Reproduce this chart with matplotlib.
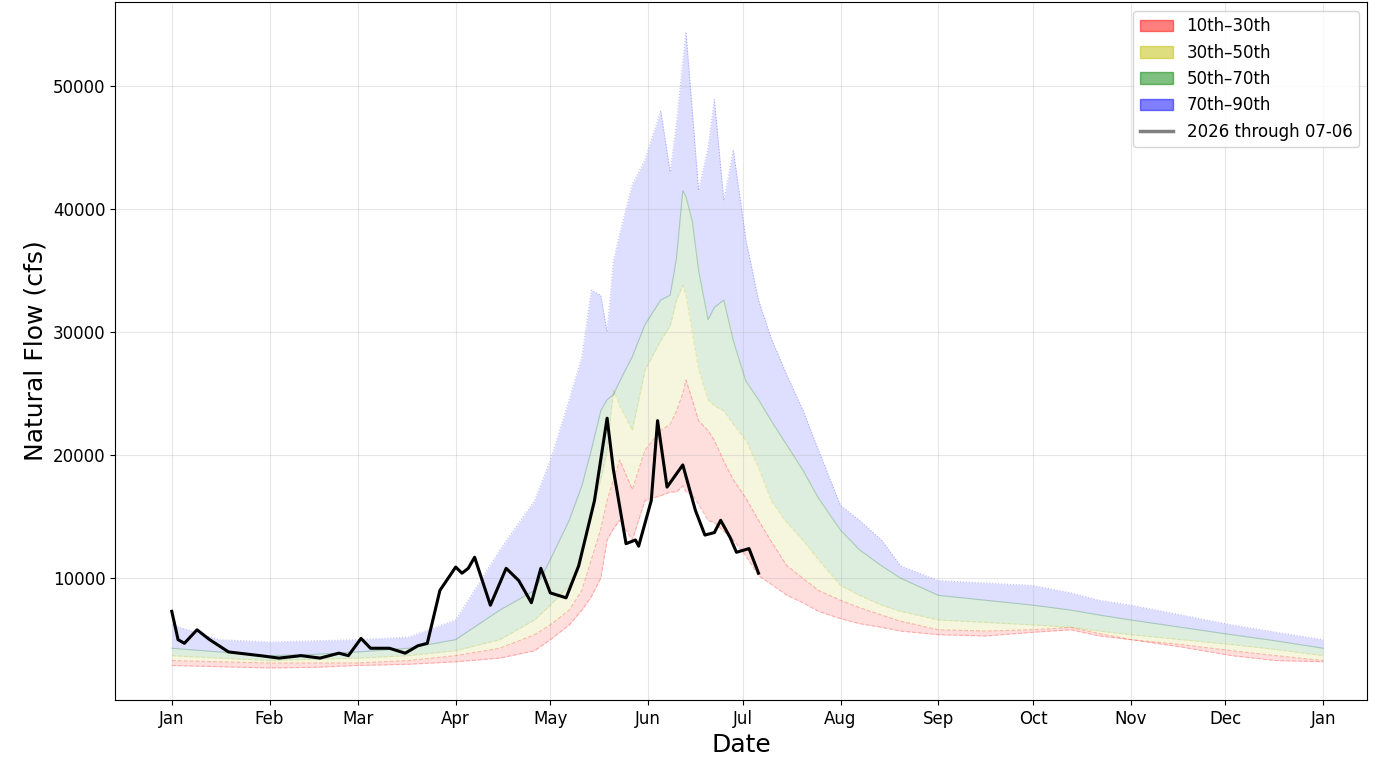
import numpy as np
import matplotlib.pyplot as plt
from matplotlib.patches import Patch
from matplotlib.lines import Line2D

# day of year (0 = Jan 1) knots for the percentile bands
band_days = [0, 15, 31, 45, 59, 75, 90, 104, 115, 120, 126, 130, 133, 136, 138, 140, 142,
             146, 150, 155, 158, 160, 162, 163, 165, 167, 170, 172, 175, 178, 182, 186, 190,
             195, 200, 205, 212, 218, 225, 231, 243, 258, 273, 285, 294, 304, 320, 336, 350,
             365]
p10 = [2900, 2800, 2700, 2750, 2900, 3000, 3200, 3500, 4100, 5000, 6200, 7400, 8500, 10000,
       13100, 14000, 14700, 13100, 16300, 16700, 17000, 17000, 17500, 17000, 16800, 16000,
       14700, 14500, 13800, 13100, 11800, 10200, 9500, 8600, 8000, 7300, 6700, 6300, 6000,
       5700, 5400, 5300, 5600, 5800, 5300, 5000, 4400, 3700, 3300, 3200]
p30 = [3300, 3200, 3100, 3100, 3100, 3300, 3700, 4300, 5400, 6200, 7400, 9000, 11500, 14000,
       16300, 18000, 19600, 17200, 20400, 22000, 22500, 23600, 25000, 26100, 24500, 22800,
       22000, 21200, 19500, 18000, 16500, 14700, 13000, 11000, 10000, 9000, 8200, 7600, 7000,
       6500, 5800, 5700, 5800, 6000, 5500, 5000, 4600, 4100, 3700, 3300]
p50 = [3700, 3500, 3300, 3400, 3500, 3700, 4100, 5000, 6600, 7800, 9400, 12000, 15500, 18000,
       20400, 25300, 24000, 22000, 26900, 29300, 30500, 32600, 33800, 33000, 30000, 27000,
       24500, 24000, 23600, 22500, 21200, 19000, 16300, 14500, 13100, 11500, 9400, 8600, 7800,
       7300, 6600, 6400, 6200, 6000, 5700, 5400, 5000, 4600, 4200, 3700]
p70 = [4300, 4000, 3700, 3800, 4000, 4300, 5000, 7400, 9000, 11500, 14700, 17500, 20400, 23600,
       24500, 24900, 26000, 28000, 30600, 32600, 33000, 36000, 41500, 41000, 39000, 35000,
       31000, 32000, 32600, 29300, 26000, 24500, 22800, 20800, 18800, 16500, 13900, 12300,
       11000, 10000, 8600, 8200, 7800, 7400, 7000, 6600, 6000, 5400, 4900, 4300]
p90 = [6200, 5000, 4800, 4900, 5000, 5200, 6600, 12300, 16300, 19600, 24500, 28000, 33400,
       33000, 30000, 35800, 38000, 42000, 44000, 48000, 43000, 47000, 52000, 54400, 48000,
       41500, 45000, 48900, 40700, 44800, 37500, 32600, 29500, 26500, 23700, 20400, 15900,
       14700, 13100, 11000, 9800, 9600, 9400, 8800, 8200, 7800, 7000, 6200, 5600, 5000]

# 2026 observed flow through 07-06
obs_days = [0, 2, 4, 8, 12, 18, 28, 34, 41, 47, 53, 56, 60, 63, 69, 74, 78, 81, 85, 90, 92,
            94, 96, 101, 106, 110, 114, 117, 120, 125, 129, 134, 138, 140, 144, 147, 148,
            152, 154, 157, 162, 166, 169, 172, 174, 177, 179, 183, 186]
obs_flow = [7300, 5000, 4700, 5800, 5000, 4000, 3700, 3500, 3700, 3500, 3900, 3700, 5100,
            4300, 4300, 3900, 4500, 4700, 9000, 10900, 10400, 10800, 11700, 7800, 10800, 9800,
            8000, 10800, 8800, 8400, 11000, 16300, 23000, 18800, 12800, 13100, 12600, 16300,
            22800, 17400, 19200, 15500, 13500, 13700, 14700, 13300, 12100, 12400, 10400]

month_starts = [0, 31, 59, 90, 120, 151, 181, 212, 243, 273, 304, 334, 365]
month_labels = ['Jan', 'Feb', 'Mar', 'Apr', 'May', 'Jun', 'Jul', 'Aug', 'Sep', 'Oct',
                'Nov', 'Dec', 'Jan']

fig = plt.figure(figsize=(13.77, 7.7), dpi=100)
ax = fig.add_axes([0.0835, 0.091, 0.9095, 0.906])

bands = [(p10, p30, 'red', '10th–30th', '--'),
         (p30, p50, 'y', '30th–50th', '--'),
         (p50, p70, 'green', '50th–70th', '-'),
         (p70, p90, 'blue', '70th–90th', ':')]
for lo, hi, c, lab, ls in bands:
    ax.fill_between(band_days, lo, hi, color=c, alpha=0.13, linewidth=0)
    ax.plot(band_days, hi, color=c, alpha=0.25, lw=0.8, ls=ls)
ax.plot(band_days, p10, color='red', alpha=0.25, lw=0.8, ls='--')

ax.plot(obs_days, obs_flow, color='black', lw=2.2)

handles = [Patch(facecolor=c, edgecolor=c, alpha=0.5, label=lab) for _, _, c, lab, _ in bands]
handles.append(Line2D([], [], color='gray', lw=2.5, label='2026 through 07-06'))
ax.legend(handles=handles, loc='upper right', fontsize=12)

ax.set_xticks(month_starts)
ax.set_xticklabels(month_labels, fontsize=12)
ax.tick_params(axis='y', labelsize=12)
ax.set_xlim(-18, 379)
ax.set_ylim(100, 56800)
ax.grid(True, alpha=0.3)
ax.set_xlabel('Date', fontsize=18)
ax.set_ylabel('Natural Flow (cfs)', fontsize=18)

fig.savefig('out.png', dpi=100)
